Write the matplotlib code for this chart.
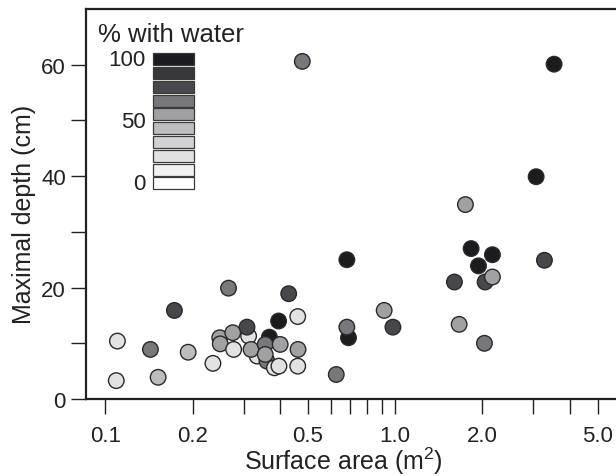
import numpy as np
import matplotlib
matplotlib.use("Agg")
import matplotlib.pyplot as plt
from matplotlib.patches import Rectangle
from matplotlib.ticker import FixedLocator, NullFormatter

plt.rcParams['font.family'] = ['Liberation Sans', 'DejaVu Sans']
plt.rcParams['mathtext.fontset'] = 'custom'
plt.rcParams['mathtext.rm'] = 'Liberation Sans'
plt.rcParams['mathtext.it'] = 'Liberation Sans:italic'

# ---- data ----
area_m2 = [0.110, 0.109, 0.143, 0.152, 0.173, 0.193, 0.235, 0.266,
           0.248, 0.249, 0.312, 0.308, 0.275, 0.277, 0.334, 0.318,
           0.368, 0.361, 0.356, 0.356, 0.401, 0.396, 0.429, 0.461,
           0.462, 0.383, 0.397, 0.461, 0.626, 0.681, 0.690, 0.681,
           0.916, 0.982, 1.747, 1.828, 2.165, 1.938, 3.273, 1.601,
           2.043, 2.165, 1.662, 2.032, 0.478, 3.534, 3.064]
depth_cm = [10.4, 3.3, 8.9, 3.9, 15.9, 8.4, 6.4, 19.9,
            11.0, 9.9, 11.3, 12.9, 11.9, 8.9, 7.7, 8.9,
            11.1, 6.8, 9.8, 8.0, 9.8, 14.0, 18.9, 14.8,
            8.9, 5.6, 5.9, 5.9, 4.4, 25.0, 11.0, 12.9,
            15.9, 12.9, 34.9, 27.0, 25.9, 23.9, 24.9, 21.0,
            21.0, 21.9, 13.4, 10.0, 60.6, 60.1, 39.9]
pct_water = [22, 22, 67, 44, 78, 44, 22, 67,
             56, 56, 22, 78, 56, 22, 22, 56,
             100, 67, 67, 56, 56, 100, 78, 22,
             56, 22, 22, 22, 67, 100, 100, 67,
             56, 78, 56, 100, 100, 100, 78, 78,
             78, 56, 56, 67, 67, 100, 100]

# legend key: shades from 100 % (top) to 0 % (bottom)
key_colors = ['#1c1c20', '#38383c', '#48484c', '#78787c', '#a1a1a4',
              '#bdbdc0', '#d2d2d4', '#e2e2e3', '#f1f1f1', '#ffffff']
key_labels = [100, 50, 0]

x_major = [0.1, 0.2, 0.5, 1.0, 2.0, 5.0]
x_minor = [0.3, 0.4, 0.6, 0.7, 0.8, 0.9, 3, 4]


def shade(p):
    # map a percentage onto one of the key shades
    k = int(round((100 - p) / 100 * (len(key_colors) - 1)))
    return key_colors[k]


fig = plt.figure(figsize=(6.16, 4.77), dpi=100)
ax = fig.add_axes([0.1396, 0.1614, 0.8604, 0.8176])

ax.scatter(area_m2, depth_cm, s=125, c=[shade(p) for p in pct_water],
           edgecolors='#2a2a2a', linewidths=1.0, zorder=3)

ax.set_xscale('log')
ax.set_xlim(0.0857, 5.78)
ax.set_ylim(0, 70)

ax.xaxis.set_major_locator(FixedLocator(x_major))
ax.xaxis.set_minor_locator(FixedLocator(x_minor))
ax.set_xticklabels([f'{v:.1f}' for v in x_major])
ax.xaxis.set_minor_formatter(NullFormatter())
ax.set_yticks([0, 20, 40, 60])
ax.set_yticks([10, 30, 50], minor=True)

ax.tick_params(which='both', direction='out', length=11, width=1.0,
               color='#222222', labelsize=16, labelcolor='#222222')
ax.tick_params(axis='x', which='both', pad=8)
ax.tick_params(axis='y', which='both', pad=3.5)

for side in ('left', 'bottom', 'top'):
    ax.spines[side].set_linewidth(1.6)
    ax.spines[side].set_color('#222222')
ax.spines['right'].set_visible(False)

ax.set_xlabel('Surface area (m$^2$)', fontsize=18, color='#222222')
ax.set_ylabel('Maximal depth (cm)', fontsize=18, color='#222222')
ax.xaxis.set_label_coords(0.485, -0.118)
ax.yaxis.set_label_coords(-0.095, 0.477)

# ---- shade key ----
bx, bw, btop, bh, pitch = 0.1264, 0.0774, 0.887, 0.0308, 0.0354
for i, col in enumerate(key_colors):
    ax.add_patch(Rectangle((bx, btop - bh - i * pitch), bw, bh,
                           facecolor=col, edgecolor='#3a3a3a', linewidth=0.9,
                           transform=ax.transAxes, zorder=4))
c_top = btop - bh / 2
c_bot = btop - bh / 2 - (len(key_colors) - 1) * pitch
for v in key_labels:
    yv = c_bot + (c_top - c_bot) * v / 100
    ax.text(0.113, yv, str(v), transform=ax.transAxes, ha='right',
            va='center', fontsize=16, color='#222222')
ax.text(0.0226, 0.918, '% with water', transform=ax.transAxes,
        ha='left', va='baseline', fontsize=18.5, color='#222222')

fig.savefig('out.png', dpi=100)
